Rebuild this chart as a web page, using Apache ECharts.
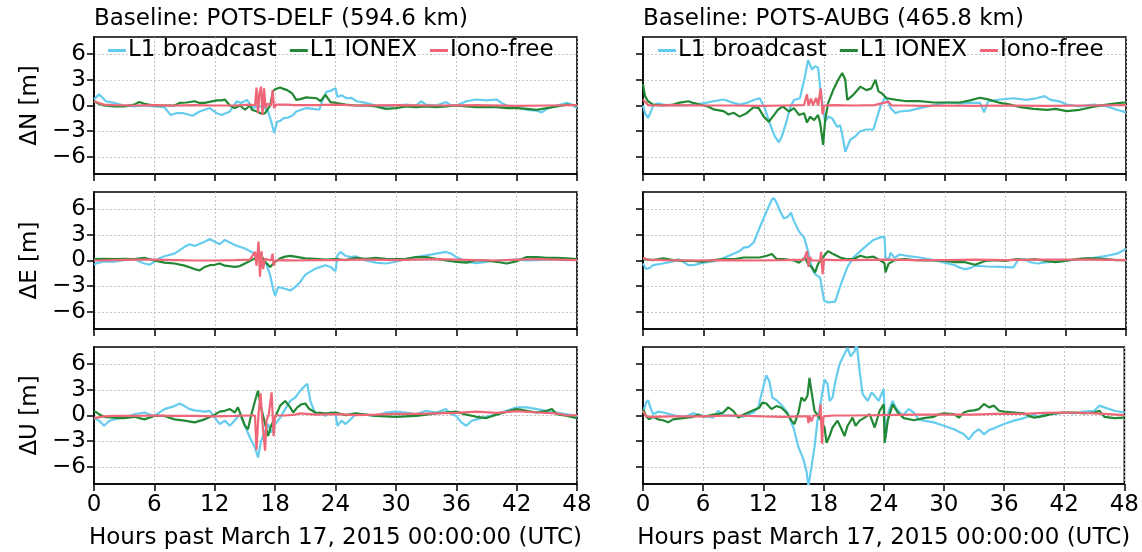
<!DOCTYPE html>
<html><head><meta charset="utf-8">
<script src="https://cdn.jsdelivr.net/npm/echarts@6/dist/echarts.min.js"></script>
<style>html,body{margin:0;padding:0;background:#fff}#chart{width:1142px;height:552px}</style>
</head><body><div id="chart"></div>
<script>
const hourTicks = [0, 6, 12, 18, 24, 30, 36, 42, 48];
const yTicks = [-6, -3, 0, 3, 6];
const seriesNames = ['L1 broadcast', 'L1 IONEX', 'Iono-free'];
const seriesColors = ['#66CCEE', '#228833', '#EE6677'];
const panelTitles = ['Baseline: POTS-DELF (594.6 km)', 'Baseline: POTS-AUBG (465.8 km)'];
const rowLabels = ['ΔN [m]', 'ΔE [m]', 'ΔU [m]'];
const xAxisTitle = 'Hours past March 17, 2015 00:00:00 (UTC)';

// POTS-DELF, North
const delfN_broadcast = [[0,0.7],[0.5,1.3],[1.2,0.5],[2,0.3],[3,0.0],[4,-0.1],[5,0.0],[6,-0.1],[7,-0.2],[7.6,-1.1],[8.2,-0.9],[8.9,-0.9],[9.8,-1.2],[10.5,-0.7],[11.5,-0.3],[12.2,-0.9],[12.7,-1.1],[13.5,-0.7],[14.2,0.5],[14.6,0.3],[15.2,0.65],[15.8,-0.3],[16.3,-0.1],[16.8,-0.1],[17.3,-0.7],[17.6,-1.8],[17.9,-3.2],[18.2,-1.9],[18.5,-1.8],[18.8,-1.5],[19.3,-1.4],[19.8,-1.1],[20.1,-0.7],[20.6,-0.5],[21.1,-0.3],[21.8,-0.4],[22.4,-0.5],[22.7,0.6],[23.1,1.6],[23.5,1.7],[23.8,1.9],[24.0,2.0],[24.2,1.0],[24.6,1.2],[25.1,0.85],[25.6,0.9],[26.1,0.5],[27,0.3],[28,0.0],[29,-0.1],[30,0.0],[31,0.1],[32,0.0],[32.5,0.5],[33,0.1],[34,0.0],[35,0.4],[35.5,0.0],[36,0.0],[37,0.5],[38,0.7],[39,0.6],[40,0.7],[40.5,0.3],[41,0.0],[42,-0.2],[43,-0.5],[44,-0.6],[44.5,-0.8],[45,-0.4],[46,0.0],[47,0.3],[47.5,0.1],[48,-0.3]];
const delfN_ionex = [[0,0.5],[0.5,0.2],[1,0.0],[2,-0.1],[3,-0.1],[4,0.1],[4.5,0.4],[5,0.2],[6,0.0],[7,0.0],[8,0.0],[8.5,0.3],[9.2,0.35],[10,0.5],[10.5,0.3],[11,0.3],[12.2,0.6],[12.7,0.6],[13,0.7],[13.5,0.0],[14,-0.3],[14.5,0.0],[15,-0.5],[15.5,0.0],[15.7,-0.5],[16.2,-0.7],[16.7,-1.0],[17.0,-0.9],[17.5,0.0],[17.8,1.7],[18.0,1.9],[18.5,2.1],[18.7,2.0],[19.2,1.8],[19.7,1.4],[20.1,0.65],[20.5,0.75],[21.1,0.95],[22.1,0.85],[22.5,0.5],[23.0,1.25],[23.5,0.4],[24,0.3],[25,0.1],[26,0.0],[27,0.0],[28,-0.1],[29,-0.4],[30,-0.3],[31,-0.1],[32,-0.2],[33,-0.1],[34,-0.2],[35,-0.1],[36,0.0],[37,-0.1],[38,-0.2],[39,-0.2],[40,-0.2],[41,-0.3],[42,-0.3],[43,-0.4],[44,-0.5],[45,-0.3],[46,-0.1],[47,0.1],[48,0.0]];
const delfN_ionofree = [[0,0.5],[0.5,0.3],[1,0.1],[2,0.05],[4,0.0],[6,0.05],[8,0.0],[10,0.05],[12,0.0],[14,0.0],[15.5,0.1],[16.0,0.0],[16.15,2.1],[16.3,-0.9],[16.45,1.5],[16.6,2.2],[16.75,-1.1],[16.9,2.0],[17.05,-0.3],[17.2,0.2],[17.6,0.0],[17.75,1.8],[17.9,-0.3],[18.1,0.1],[19,0.1],[20,0.05],[22,0.05],[24,0.1],[26,0.0],[30,0.05],[34,0.0],[38,0.05],[42,-0.05],[45,0.0],[48,0.05]];

// POTS-DELF, East
const delfE_broadcast = [[0,-0.5],[0.3,-0.3],[1,-0.1],[2,-0.15],[3,0.05],[4,0.15],[5,-0.35],[5.5,-0.5],[6,-0.15],[6.5,0.25],[7,0.5],[8,0.8],[9,1.6],[9.5,1.9],[10,1.7],[11,2.2],[11.5,2.5],[12,2.2],[12.5,1.9],[13,2.4],[13.5,2.1],[14,1.8],[15,1.4],[16,0.8],[16.5,0.4],[17,0.0],[17.5,-1.7],[17.8,-3.3],[18,-4.1],[18.3,-3.1],[19,-3.3],[19.5,-3.5],[20,-3.1],[20.5,-2.5],[21,-1.65],[22,-0.95],[23,-0.55],[23.5,-0.75],[24,-1.25],[24.2,0.6],[24.5,1.0],[25,0.55],[25.5,0.4],[26,0.5],[27,0.0],[28,-0.25],[29,-0.35],[30,-0.15],[31,0.15],[32,0.4],[33,0.6],[34,0.8],[35,1.0],[35.5,0.8],[36,0.4],[36.5,0.15],[37,-0.15],[38,-0.3],[39,-0.15],[40,0.0],[41,0.05],[42,0.1],[43,0.0],[44,0.05],[45,0.1],[46,0.1],[47,0.05],[48,0.1]];
const delfE_ionex = [[0,0.15],[1,0.2],[2,0.15],[3,0.2],[4,0.15],[5,0.3],[6,0.0],[7,-0.25],[8,-0.35],[9,-0.6],[10,-1.0],[10.5,-1.15],[11,-0.75],[11.5,-0.55],[12,-0.5],[12.5,-0.35],[13,-0.6],[14,-0.75],[14.5,-0.65],[15,-0.35],[16,0.25],[16.5,0.8],[17,-0.15],[17.5,-0.75],[18,-0.15],[18.5,0.25],[19,0.45],[19.5,0.55],[20,0.45],[21,0.25],[22,0.2],[23,0.1],[24,0.15],[25,0.05],[26,0.3],[27,0.2],[28,0.3],[29,0.2],[30,0.15],[31,0.2],[32,0.4],[33,0.4],[34,0.2],[35,0.0],[36,-0.15],[37,-0.25],[38,0.05],[39,0.0],[40,-0.15],[41,-0.35],[42,-0.1],[43,0.4],[44,0.4],[45,0.3],[46,0.3],[47,0.25],[48,0.15]];
const delfE_ionofree = [[0,0.0],[2,0.05],[4,0.1],[6,0.1],[8,0.05],[10,0.0],[12,0.0],[14,0.05],[15.5,0.1],[16.0,1.0],[16.15,-0.6],[16.35,2.2],[16.5,-1.9],[16.65,1.1],[16.8,-1.0],[17.0,0.2],[17.6,0.0],[17.75,0.8],[17.85,-0.6],[18.0,0.0],[19,0.05],[20,0.0],[22,0.05],[24,0.05],[26,0.1],[28,0.1],[30,0.05],[32,0.1],[34,0.15],[36,0.1],[38,0.05],[40,0.0],[42,0.1],[44,0.15],[46,0.1],[48,0.05]];

// POTS-DELF, Up
const delfU_broadcast = [[0,-0.3],[0.5,-0.6],[1,-1.2],[1.5,-0.65],[2,-0.45],[3,-0.25],[4,0.15],[5,0.35],[6,-0.05],[7,0.75],[8,1.1],[8.5,1.4],[9,1.1],[9.5,0.75],[10,0.6],[11,0.45],[11.5,0.55],[12,-0.25],[12.5,-1.0],[13,-0.6],[13.5,-1.2],[14,-0.55],[14.5,0.15],[15,-1.2],[15.5,-2.6],[16,-3.75],[16.3,-4.9],[16.6,-3.0],[17,-1.8],[17.3,-1.0],[17.6,-2.0],[18,-1.0],[18.5,-0.25],[19,0.75],[19.5,1.7],[20,2.1],[20.5,2.9],[21,3.5],[21.2,3.7],[21.5,1.7],[22,0.15],[22.5,0.35],[23,-0.05],[23.5,0.35],[24,0.15],[24.2,-1.2],[24.6,-0.6],[25,-1.0],[25.5,-0.45],[26,0.15],[27,0.1],[28,-0.05],[29,0.35],[30,0.45],[31,0.35],[32,0.15],[33,0.55],[34,0.35],[35,0.75],[35.3,0.3],[36,-0.05],[36.5,-0.8],[37,-1.2],[37.5,-0.65],[38,-0.45],[39,-0.15],[40,0.1],[41,0.55],[42,0.95],[43,0.95],[44,0.75],[45,0.55],[46,0.35],[47,0.15],[48,-0.05]];
const delfU_ionex = [[0,0.55],[0.5,0.15],[1,-0.15],[2,-0.25],[3,-0.3],[4,-0.15],[5,-0.45],[6,-0.05],[7,-0.05],[8,-0.45],[9,-0.6],[10,-0.8],[11,-0.45],[12,0.1],[12.5,0.45],[13,0.55],[13.5,0.75],[14,0.35],[14.3,0.95],[14.7,-0.25],[15,-1.2],[15.3,-1.6],[15.6,-0.05],[16,1.7],[16.3,2.9],[16.6,0.95],[17,-1.0],[17.3,-2.4],[17.6,-1.2],[18,-0.25],[18.5,1.15],[19,1.7],[19.5,0.95],[19.8,0.35],[20.2,0.95],[20.6,1.3],[21,1.4],[21.4,0.75],[22,0.35],[23,0.25],[24,0.35],[25,0.05],[26,0.25],[28,-0.05],[30,-0.15],[32,-0.05],[34,0.25],[36,0.45],[37,0.1],[38,-0.15],[39,-0.3],[40,0.1],[41,0.45],[42,0.75],[43,0.55],[44,0.35],[45,0.55],[45.5,0.75],[46,0.15],[47,-0.05],[48,-0.3]];
const delfU_ionofree = [[0,-0.3],[1,-0.1],[2,-0.05],[4,-0.05],[6,0.0],[8,-0.05],[10,-0.05],[12,-0.1],[14,-0.05],[15.5,0.0],[16.0,0.0],[16.15,-4.0],[16.35,0.2],[16.55,2.6],[16.75,-1.0],[17.0,-4.1],[17.15,-0.5],[17.35,0.0],[17.65,2.7],[17.85,-2.4],[18.0,0.0],[19,0.0],[20,0.1],[20.5,0.25],[22,0.1],[24,0.15],[26,0.05],[28,0.1],[30,0.2],[32,0.2],[34,0.25],[36,0.3],[38,0.45],[40,0.3],[42,0.5],[44,0.35],[46,0.25],[47,0.0],[48,0.05]];

// POTS-AUBG, North
const aubgN_broadcast = [[0,0.0],[0.2,-0.9],[0.5,-1.45],[0.8,-0.7],[1,0.0],[1.5,0.25],[2,0.1],[3,0.0],[4,0.0],[5,0.1],[6,0.25],[7,0.5],[8,0.7],[8.5,0.5],[9,0.3],[9.6,0.1],[10.3,0.3],[11.0,0.65],[11.6,0.85],[12.1,-0.3],[12.6,-2.1],[13.1,-3.6],[13.5,-4.3],[13.8,-3.6],[14.3,-1.7],[14.6,-0.3],[15.0,0.65],[15.6,0.85],[16.1,3.4],[16.4,5.3],[16.8,4.2],[17.1,4.6],[17.4,4.4],[17.6,2.2],[17.9,-0.3],[18.1,-1.9],[18.4,-1.3],[18.8,-1.5],[19.3,-2.5],[19.6,-2.3],[19.9,-4.0],[20.1,-5.4],[20.6,-4.0],[21.1,-3.6],[21.6,-3.0],[22.2,-2.8],[22.9,-2.8],[23.2,-1.6],[23.6,-0.1],[24.1,1.05],[24.6,-0.3],[25.1,-0.9],[25.5,-0.7],[26.5,-0.6],[27.5,-0.3],[28.9,0.05],[30.2,0.35],[31.5,0.25],[32.5,0.3],[33.5,0.3],[33.9,-0.8],[34.3,0.5],[35.5,0.7],[36.8,0.85],[38.1,0.65],[39.1,0.85],[39.9,1.1],[40.5,0.65],[41.5,0.45],[42.1,0.1],[43.4,-0.1],[44.8,0.1],[46.1,-0.1],[47.1,-0.5],[48,-0.8]];
const aubgN_ionex = [[0,2.5],[0.2,1.1],[0.5,0.5],[1,0.1],[2,0.0],[3,0.1],[3.5,0.3],[4,0.4],[4.5,0.5],[5,0.3],[6,0.0],[6.5,-0.15],[7,-0.45],[8,-0.65],[8.5,-1.05],[9,-0.85],[9.6,-1.3],[10.3,-0.9],[11.0,-0.2],[11.5,-0.3],[12.0,-1.3],[12.5,-1.9],[12.9,-1.3],[13.4,-0.5],[13.9,-0.1],[14.5,-0.7],[15.0,-0.3],[15.5,-1.1],[16.0,-0.9],[16.3,-2.0],[16.6,-1.3],[17.0,-1.7],[17.4,-1.1],[17.6,-2.0],[17.9,-4.6],[18.1,-1.7],[18.4,0.3],[18.9,1.8],[19.4,3.0],[19.8,3.8],[20.1,3.0],[20.3,0.65],[20.9,1.25],[21.6,2.2],[22.2,1.8],[22.7,2.0],[23.1,3.0],[23.4,1.65],[23.7,1.45],[24.2,0.85],[25.2,0.65],[26.2,0.5],[27.5,0.5],[28.9,0.35],[30.2,0.35],[31.5,0.35],[32.5,0.6],[33.5,0.9],[34.2,0.75],[35.5,0.3],[36.5,0.1],[37.5,-0.2],[38.8,-0.4],[40.2,-0.5],[41,-0.4],[42.1,-0.65],[43.4,-0.5],[44.8,-0.15],[46.1,0.1],[47.4,0.3],[48,0.35]];
const aubgN_ionofree = [[0,0.7],[0.5,0.05],[1,0.0],[3,0.05],[6,0.0],[9,0.0],[12,-0.05],[14,0.0],[16.0,0.05],[16.3,1.3],[16.45,0.0],[16.7,0.8],[16.9,0.0],[17.2,0.9],[17.4,0.0],[17.65,2.0],[17.85,-1.05],[18.0,0.0],[19,0.05],[21,0.0],[23,0.05],[24.4,0.45],[24.7,0.0],[26,0.0],[28,-0.05],[30,0.0],[33,-0.05],[36,0.0],[40,-0.05],[44,0.0],[48,0.05]];

// POTS-AUBG, East
const aubgE_broadcast = [[0,-0.35],[0.3,-1.0],[0.7,-0.85],[1,-0.55],[2,-0.35],[3,-0.1],[3.5,0.15],[4,-0.15],[4.5,-0.55],[5,-0.55],[6,-0.25],[7,-0.1],[8,0.3],[9,0.8],[9.6,1.1],[10,1.5],[10.5,1.6],[11,2.1],[11.6,3.85],[12.3,5.8],[12.8,7.1],[13.0,7.3],[13.3,6.7],[13.6,5.8],[14.0,4.9],[14.4,5.1],[14.7,5.6],[15.0,4.6],[15.5,3.4],[16.0,2.7],[16.4,1.1],[16.8,-0.95],[17.1,-1.6],[17.6,-2.0],[18.0,-4.7],[18.4,-4.9],[19.1,-4.8],[19.6,-3.0],[20.0,-1.7],[20.3,-0.8],[20.9,0.35],[21.6,1.1],[22.2,1.7],[22.9,2.4],[23.6,2.7],[24.0,2.8],[24.1,0.4],[24.4,0.0],[24.6,0.9],[25.0,0.3],[25.5,0.7],[26.2,0.55],[27.5,0.35],[28.9,0.05],[30.2,-0.3],[31,-0.55],[31.5,-0.85],[32,-1.0],[32.5,-0.9],[33,-0.6],[34.2,-0.7],[35.5,-0.75],[36.8,-0.8],[37.3,0.1],[38.0,0.15],[38.5,-0.2],[39.2,-0.35],[40.2,-0.2],[41.2,-0.1],[42.1,0.0],[43.4,0.15],[44.8,0.3],[46.1,0.55],[47.1,0.8],[48,1.35]];
const aubgE_ionex = [[0,0.15],[1,0.05],[2,0.25],[3,0.05],[4,-0.05],[5,-0.05],[6,-0.15],[7,0.05],[8,0.15],[9,0.15],[10,0.35],[10.6,0.35],[11.6,0.35],[12.3,0.55],[12.8,0.75],[13.3,0.15],[14.0,0.15],[15.0,0.0],[15.5,-0.25],[16.1,0.35],[16.4,-0.4],[16.8,-0.8],[17.1,-1.4],[17.4,-0.4],[18.0,0.55],[18.4,1.1],[18.9,0.75],[19.6,0.35],[20.3,0.15],[20.9,0.15],[21.6,0.55],[22.2,0.35],[22.9,0.45],[23.6,0.0],[24.0,-0.3],[24.1,-1.4],[24.4,-0.4],[25.0,0.05],[26,0.15],[27,0.05],[28,0.0],[29,0.05],[30,-0.05],[31,-0.2],[32,-0.2],[33,-0.5],[34,-0.05],[35,0.05],[36,-0.05],[37,0.15],[38,0.05],[39,0.15],[40,-0.05],[41,-0.2],[42,-0.05],[43,0.15],[44,0.25],[45,0.25],[46,0.15],[47,0.05],[48,0.05]];
const aubgE_ionofree = [[0,0.3],[0.5,0.1],[2,0.05],[5,0.0],[8,0.05],[11,0.0],[14,0.05],[16,0.1],[16.3,1.1],[16.45,-0.75],[16.6,0.4],[16.8,0.0],[17.6,0.0],[17.7,1.0],[17.85,-1.6],[18.0,0.1],[19,0.05],[21,0.05],[24,0.1],[27,0.05],[30,0.05],[33,0.1],[36,0.05],[39,0.1],[42,0.1],[45,0.1],[48,0.05]];

// POTS-AUBG, Up
const aubgU_broadcast = [[0,0.35],[0.3,1.5],[0.5,1.8],[0.8,0.75],[1,0.15],[1.5,0.45],[2,0.35],[3,0.05],[4,-0.25],[5,0.25],[6,-0.05],[7,-0.25],[7.5,0.55],[8,0.05],[9,-0.05],[10,-0.15],[11,0.35],[11.5,0.95],[11.9,2.9],[12.3,4.7],[12.6,4.0],[12.9,2.1],[13.4,1.7],[13.9,1.1],[14.4,0.35],[15.0,-1.4],[15.5,-3.7],[16.0,-5.1],[16.3,-6.5],[16.5,-8.2],[16.8,-6.0],[17.1,-3.7],[17.4,-0.6],[17.8,2.1],[18.1,4.2],[18.4,3.7],[18.6,1.7],[18.9,2.1],[19.2,4.1],[19.6,6.0],[20.1,7.2],[20.4,7.9],[20.7,6.9],[21.1,7.5],[21.3,8.5],[21.6,5.2],[21.9,2.5],[22.4,1.7],[22.8,2.7],[23.1,2.3],[23.5,1.7],[24.0,3.1],[24.1,-0.2],[24.2,-2.6],[24.5,0.5],[24.9,1.7],[25.2,0.9],[25.9,0.0],[26.5,0.75],[27,0.35],[27.5,-0.45],[28,-0.6],[29,-0.8],[30,-1.2],[31,-1.6],[32,-2.2],[32.5,-2.8],[33,-2.0],[33.5,-1.6],[34,-2.2],[34.5,-1.7],[35,-1.5],[36,-1.0],[37,-0.6],[38,-0.3],[39,0.1],[39.5,-0.25],[40,0.25],[41,0.15],[42,0.35],[43,0.25],[44,0.45],[45,0.55],[45.5,1.15],[46,0.95],[47,0.55],[48,0.35]];
const aubgU_ionex = [[0,0.75],[0.3,-0.05],[0.6,-0.45],[1,-0.15],[1.5,-0.45],[2,-0.55],[2.5,-0.8],[3,-0.45],[4,-0.3],[5,-0.15],[5.5,0.1],[6,-0.15],[7,0.1],[7.5,0.15],[8,0.35],[8.5,0.95],[9,0.55],[9.5,-0.25],[10,0.1],[10.5,0.35],[11,0.6],[11.6,0.9],[11.9,1.5],[12.3,1.4],[12.8,0.75],[13.3,1.1],[13.8,0.9],[14.3,0.35],[14.8,-0.6],[15.1,-1.0],[15.5,0.35],[15.8,2.1],[16.1,1.7],[16.4,2.3],[16.6,4.4],[16.8,2.8],[17.1,0.55],[17.6,-0.25],[18.1,-1.4],[18.3,-3.2],[18.6,-2.4],[18.9,-1.4],[19.4,-0.6],[19.8,-1.6],[20.1,-2.4],[20.4,-1.2],[20.9,-0.25],[21.2,-1.2],[21.6,-0.6],[22.1,-0.25],[22.6,0.15],[23.1,-1.4],[23.6,0.55],[24.0,1.3],[24.1,-3.2],[24.4,-0.6],[24.9,1.3],[25.4,0.35],[26,-0.3],[27,-0.55],[28,-0.3],[29,-0.15],[29.5,0.15],[30,0.25],[31,0.15],[31.5,-0.25],[32,0.35],[32.5,0.55],[33,0.6],[33.5,0.75],[34,1.35],[34.5,0.95],[35,1.15],[35.5,0.55],[36,0.45],[37,0.35],[38,0.25],[38.5,-0.05],[39,-0.25],[40,-0.05],[41,0.25],[42,0.35],[43,0.35],[44,0.25],[45,0.35],[45.5,0.55],[46,-0.15],[47,-0.3],[48,-0.25]];
const aubgU_ionofree = [[0,0.5],[0.3,-0.1],[1,-0.15],[3,-0.1],[6,-0.1],[9,0.0],[12,-0.1],[14,-0.15],[15.5,-0.1],[16.4,-0.1],[16.5,-0.9],[16.6,0.0],[16.8,-0.7],[17.0,0.0],[17.6,0.0],[17.7,1.3],[17.85,-3.3],[18.0,-0.1],[19,0.0],[21,0.0],[24,0.05],[27,0.1],[30,0.1],[33,0.1],[35,0.2],[38,0.2],[40,0.3],[42,0.35],[44,0.3],[46,0.2],[48,0.05]];

// panel order: row-major (row 0 = N, 1 = E, 2 = U; col 0 = DELF, col 1 = AUBG)
const panelData = [
  [delfN_broadcast, delfN_ionex, delfN_ionofree],
  [aubgN_broadcast, aubgN_ionex, aubgN_ionofree],
  [delfE_broadcast, delfE_ionex, delfE_ionofree],
  [aubgE_broadcast, aubgE_ionex, aubgE_ionofree],
  [delfU_broadcast, delfU_ionex, delfU_ionofree],
  [aubgU_broadcast, aubgU_ionex, aubgU_ionofree]
];

const FONT = 'DejaVu Sans';
const FS = 23;
const colLeft = [94, 643];
const rowTop = [37, 192, 347];
const gridW = 483, gridH = 137;

const grids = [], xAxes = [], yAxes = [], series = [];
for (let r = 0; r < 3; r++) {
  for (let c = 0; c < 2; c++) {
    const gi = r * 2 + c;
    grids.push({ left: colLeft[c], top: rowTop[r], width: gridW, height: gridH,
      show: true, borderColor: '#000', borderWidth: 1.6, backgroundColor: 'transparent' });
    xAxes.push({
      gridIndex: gi, type: 'value', min: hourTicks[0], max: hourTicks[hourTicks.length - 1],
      interval: hourTicks[1] - hourTicks[0],
      axisLine: { show: true, onZero: false, lineStyle: { color: '#000', width: 1.6 } },
      axisTick: { show: true, inside: false, length: 7, lineStyle: { color: '#000', width: 1.5 } },
      axisLabel: { show: r === 2, fontFamily: FONT, fontSize: FS, color: '#000', margin: 10 },
      splitLine: { show: true, lineStyle: { color: '#b5b5b5', width: 0.8, type: [2, 2] } },
      name: r === 2 ? xAxisTitle : '', nameLocation: 'middle', nameGap: 43,
      nameTextStyle: { fontFamily: FONT, fontSize: FS, color: '#000' }
    });
    yAxes.push({
      gridIndex: gi, type: 'value', min: -8, max: 8,
      axisLine: { show: true, lineStyle: { color: '#000', width: 1.6 } },
      axisTick: { show: true, inside: false, length: 7, customValues: yTicks, lineStyle: { color: '#000', width: 1.5 } },
      axisLabel: { show: c === 0, customValues: yTicks, fontFamily: FONT, fontSize: FS, color: '#000', margin: 8,
        formatter: v => (v < 0 ? '\u2212' + Math.abs(v) : String(v)) },
      splitLine: { show: true, lineStyle: { color: '#b5b5b5', width: 0.8, type: [2, 2] } },
      name: c === 0 ? rowLabels[r] : '', nameLocation: 'middle', nameGap: 52, nameRotate: 90,
      nameTextStyle: { fontFamily: FONT, fontSize: FS, color: '#000' }
    });
    for (let s = 0; s < 3; s++) {
      series.push({
        type: 'line', name: seriesNames[s], xAxisIndex: gi, yAxisIndex: gi,
        data: panelData[gi][s], showSymbol: false, symbol: 'none', clip: true,
        lineStyle: { color: seriesColors[s], width: 2.2 }, itemStyle: { color: seriesColors[s] },
        z: 2 + s, animation: false
      });
    }
  }
}

const chart = echarts.init(document.getElementById('chart'), null, { renderer: 'canvas' });
chart.setOption({
  backgroundColor: '#fff',
  animation: false,
  title: panelTitles.map((t, i) => ({ text: t, left: colLeft[i], top: 8, padding: 0,
    textStyle: { fontFamily: FONT, fontSize: FS, fontWeight: 'normal', color: '#000' } })),
  legend: [108, 658].map(l => ({ data: seriesNames, left: l, top: 39, padding: 0, icon: 'rect',
    itemWidth: 18, itemHeight: 3, itemGap: 13, selectedMode: false,
    textStyle: { fontFamily: FONT, fontSize: FS, color: '#000', padding: [0, 0, 0, -3] } })),
  grid: grids, xAxis: xAxes, yAxis: yAxes, series: series
});
</script></body></html>
